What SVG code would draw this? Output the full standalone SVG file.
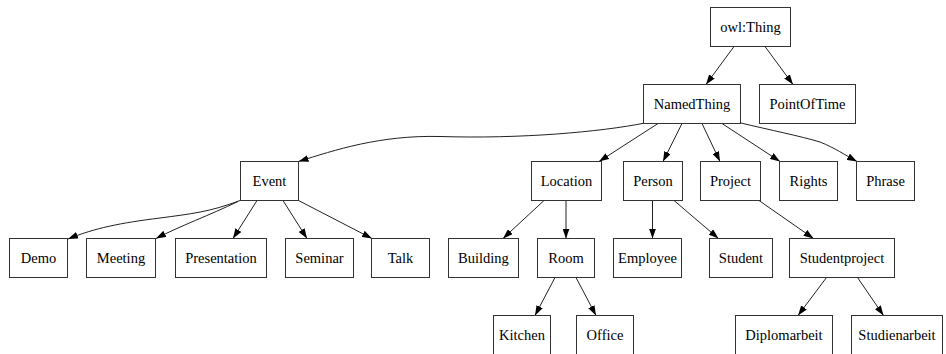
<svg xmlns="http://www.w3.org/2000/svg" width="946" height="354" viewBox="0 0 946 354">
  <style>
    .node rect { fill: #ffffff; stroke: #333333; stroke-width: 1; }
    .node text { font-family: "Liberation Serif", "Times New Roman", serif; font-size: 14.5px; fill: #000000; text-anchor: middle; }
    .edges path { fill: none; stroke: #222222; stroke-width: 1; marker-end: url(#arrow); }
  </style>
  <defs>
    <marker id="arrow" viewBox="0 0 10 7" refX="10" refY="3.5" markerWidth="10" markerHeight="7" markerUnits="userSpaceOnUse" orient="auto">
      <path d="M0,0 L10,3.5 L0,7 z" fill="#000000"/>
    </marker>
  </defs>
  <rect x="0" y="0" width="946" height="354" fill="#ffffff"/>

  <!-- subclass edges -->
  <g id="edges" class="edges">
    <path d="M734,46.5 L706,84.5"/>
    <path d="M765,46.5 L793,84.5"/>
    <path d="M645,123 C600,132 520,139 440,136.5 C380,135 335,150 298.5,161.5"/>
    <path d="M658,123.5 L599,161.5"/>
    <path d="M682,123.5 L663,161.5"/>
    <path d="M702,123.5 L720,161.5"/>
    <path d="M722,123.5 L780,161.5"/>
    <path d="M741,123 C770,130 800,136 820,142 C835,148 845,155 857,161.5"/>
    <path d="M240,200.5 C210,212 190,214 160,218 C120,223 95,228 68,239"/>
    <path d="M238,201.5 C210,215 180,226 156,238.5"/>
    <path d="M257,200.5 L233,238.5"/>
    <path d="M283,200.5 L307,238.5"/>
    <path d="M298.5,200.5 L372,238.5"/>
    <path d="M544,200.5 L503,238.5"/>
    <path d="M566,200.5 L566,238.5"/>
    <path d="M652.5,200.5 L652.5,238.5"/>
    <path d="M674,200.5 L718.5,238.5"/>
    <path d="M759,200.5 L813.5,238.5"/>
    <path d="M555,277.5 L535,315.5"/>
    <path d="M576,277.5 L596,315.5"/>
    <path d="M826.5,277.5 L798,315.5"/>
    <path d="M857.5,277.5 L883.5,315.5"/>
  </g>

  <g id="owl-thing" class="node"><rect x="710.5" y="7.5" width="80" height="39"/><text x="750.5" y="32">owl:Thing</text></g>
  <g id="named-thing" class="node"><rect x="643.5" y="84.5" width="97" height="39"/><text x="692" y="109">NamedThing</text></g>
  <g id="point-of-time" class="node"><rect x="759.5" y="84.5" width="96" height="39"/><text x="807.5" y="109">PointOfTime</text></g>

  <g id="event" class="node"><rect x="240.5" y="161.5" width="58" height="39"/><text x="269.5" y="186">Event</text></g>
  <g id="location" class="node"><rect x="531.5" y="161.5" width="70" height="39"/><text x="566.5" y="186">Location</text></g>
  <g id="person" class="node"><rect x="623.5" y="161.5" width="59" height="39"/><text x="653" y="186">Person</text></g>
  <g id="project" class="node"><rect x="700.5" y="161.5" width="60" height="39"/><text x="730.5" y="186">Project</text></g>
  <g id="rights" class="node"><rect x="779.5" y="161.5" width="58" height="39"/><text x="808.5" y="186">Rights</text></g>
  <g id="phrase" class="node"><rect x="856.5" y="161.5" width="58" height="39"/><text x="885.5" y="186">Phrase</text></g>

  <g id="demo" class="node"><rect x="9.5" y="238.5" width="58" height="39"/><text x="38.5" y="263">Demo</text></g>
  <g id="meeting" class="node"><rect x="86.5" y="238.5" width="69" height="39"/><text x="121" y="263">Meeting</text></g>
  <g id="presentation" class="node"><rect x="175.5" y="238.5" width="91" height="39"/><text x="221" y="263">Presentation</text></g>
  <g id="seminar" class="node"><rect x="285.5" y="238.5" width="68" height="39"/><text x="319.5" y="263">Seminar</text></g>
  <g id="talk" class="node"><rect x="371.5" y="238.5" width="58" height="39"/><text x="400.5" y="263">Talk</text></g>
  <g id="building" class="node"><rect x="448.5" y="238.5" width="70" height="39"/><text x="483.5" y="263">Building</text></g>
  <g id="room" class="node"><rect x="537.5" y="238.5" width="57" height="39"/><text x="566" y="263">Room</text></g>
  <g id="employee" class="node"><rect x="613.5" y="238.5" width="68" height="39"/><text x="647.5" y="263">Employee</text></g>
  <g id="student" class="node"><rect x="709.5" y="238.5" width="63" height="39"/><text x="741" y="263">Student</text></g>
  <g id="studentproject" class="node"><rect x="789.5" y="238.5" width="105" height="39"/><text x="842" y="263">Studentproject</text></g>

  <g id="kitchen" class="node"><rect x="493.5" y="315.5" width="57" height="39"/><text x="522" y="340">Kitchen</text></g>
  <g id="office" class="node"><rect x="576.5" y="315.5" width="57" height="39"/><text x="605" y="340">Office</text></g>
  <g id="diplomarbeit" class="node"><rect x="735.5" y="315.5" width="97" height="39"/><text x="784" y="340">Diplomarbeit</text></g>
  <g id="studienarbeit" class="node"><rect x="851.5" y="315.5" width="91" height="39"/><text x="897" y="340">Studienarbeit</text></g>
</svg>
